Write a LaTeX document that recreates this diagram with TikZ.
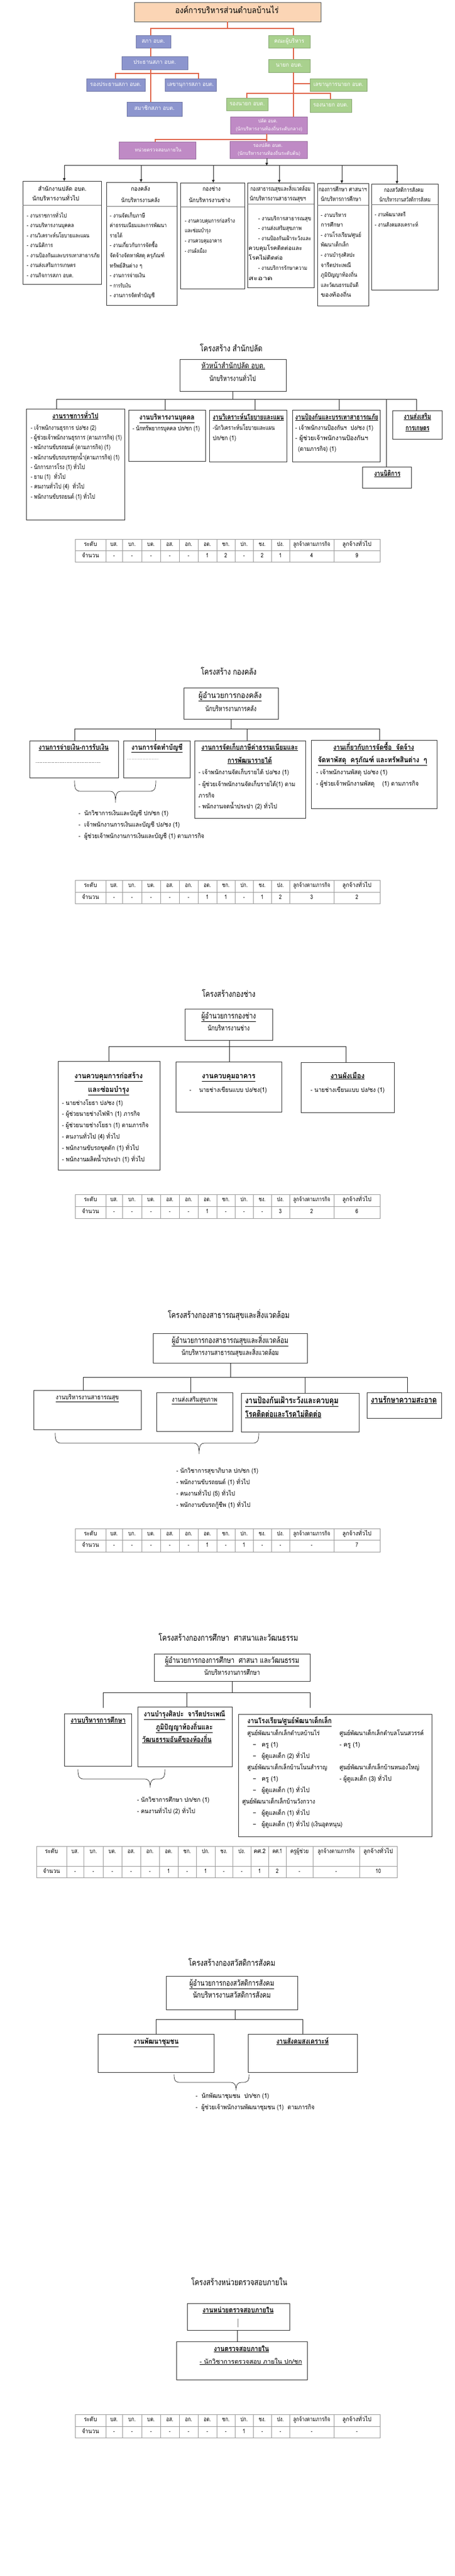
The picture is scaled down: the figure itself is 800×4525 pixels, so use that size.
\documentclass[tikz,border=0pt]{standalone}
\usepackage{fontspec}
\usetikzlibrary{fit,arrows.meta}
\newfontfamily\tha[Script=Thai]{Loma}
\newfontfamily\thb[Script=Thai,FakeStretch=0.8]{Loma}
\definecolor{peach}{HTML}{FBD5B5}
\definecolor{cblue}{HTML}{8C95CE}
\definecolor{cgreen}{HTML}{A9D18E}
\definecolor{cpurple}{HTML}{BF8AC5}
\definecolor{corange}{HTML}{E0654A}
\definecolor{tgray}{HTML}{9A9A9A}
\newsavebox\twbox
\newcommand\tw[2]{\sbox\twbox{#2}\resizebox{#1pt}{\ht\twbox}{\usebox\twbox}}
\tikzset{
  bx/.style={draw=black!80, line width=0.9pt, inner sep=0pt, outer sep=0pt},
  cbx/.style={draw=#1!80!black, fill=#1, line width=0.4pt, inner sep=0pt, outer sep=0pt},
  ol/.style={draw=corange, line width=1.8pt},
  bl/.style={draw=black!85, line width=0.8pt},
  ar/.style={bl, -{Triangle[length=5pt,width=4.5pt]}},
  sep/.style={draw=black!55, line width=0.6pt},
  tbl/.style={draw=tgray, line width=0.7pt},
  t/.style={inner sep=0pt, anchor=mid west, font=\thb\fontsize{11}{13}\selectfont},
  tc/.style={t, anchor=mid},
  ti/.style={tc, font=\thb\fontsize{15}{17}\selectfont},
  hd/.style={tc, font=\thb\fontsize{14}{16}\selectfont},
  hs/.style={tc, font=\thb\fontsize{12.5}{14}\selectfont},
  st/.style={tc, font=\thb\bfseries\fontsize{13}{15}\selectfont},
  stl/.style={st, anchor=mid west},
  sm/.style={tc, font=\thb\fontsize{11.5}{13}\selectfont},
  cell/.style={inner sep=0pt, anchor=mid, font=\thb\fontsize{10.5}{12}\selectfont},
  wt/.style={inner sep=0pt, anchor=mid, text=white, font=\tha\fontsize{10}{12}\selectfont},
  ws/.style={wt, font=\tha\fontsize{8.5}{10}\selectfont},
  it/.style={inner sep=0pt, anchor=mid west, font=\tha\fontsize{10}{12}\selectfont},
  ih/.style={inner sep=0pt, anchor=mid, font=\tha\fontsize{10.5}{12}\selectfont},
}
% \T[style]{name}{x}{y}{width}{text}
\newcommand\T[6][t]{\node[#1] (#2) at (#3,#4) {\tw{#5}{#6}};}
\newcommand\bxat[5]{\node[bx,fit={(#2,#3) (#4,#5)}] (#1) {};}
\newcommand\cbxat[6]{\node[cbx=#2,fit={(#3,#4) (#5,#6)}] (#1) {};}
\newcommand\brc[6]{%
  \draw[bl, line width=0.7pt] (#1,#2) .. controls (#1,{#6-2}) and ({#1+3},#6) .. ({#1+12},#6)
   -- ({#3-9},#6) .. controls ({#3-3},#6) and (#3,{#6+4}) .. (#3,#4)
   .. controls (#3,{#6+4}) and ({#3+3},#6) .. ({#3+9},#6)
   -- ({#5-12},#6) .. controls ({#5-3},#6) and (#5,{#6-2}) .. (#5,#2);}
\newcommand\stdcx[1]{\ifcase#1 159\or 200.5\or 232\or 265.5\or 298.5\or 331.5\or 364.5\or 397\or 429\or 461\or 493\or 548\or 627.5\fi}
\newcommand\edcx[1]{\ifcase#1 90.5\or 132\or 164\or 197.5\or 230.5\or 263.5\or 296.5\or 329\or 361.5\or 393.5\or 425\or 456.5\or 487.5\or 526.5\or 591\or 665\fi}
\newcommand\stdtable[5]{%
  \draw[tbl] (132,#2) rectangle (668,#4);
  \draw[tbl] (132,#3) -- (668,#3);
  \foreach \xx in {186,215,249,282,315,348,381,413,445,477,509,587} \draw[tbl] (\xx,#2) -- (\xx,#4);
  \pgfmathsetmacro\tya{(#2+#3)/2}
  \pgfmathsetmacro\tyb{(#3+#4)/2}
  \foreach \h [count=\i from 0] in {{\tw{23}{ระดับ}},บส.,บก.,บต.,อส.,อก.,อต.,ชก.,ปก.,ชง.,ปง.,{\tw{65}{ลูกจ้างตามภารกิจ}},{\tw{51}{ลูกจ้างทั่วไป}}} {
    \edef\xc{\stdcx{\i}}
    \node[cell] (#1h\i) at (\xc,\tya) {\h};
  }
  \foreach \v [count=\i from 0] in {{\tw{30}{จำนวน}},#5} {
    \edef\xc{\stdcx{\i}}
    \node[cell] (#1v\i) at (\xc,\tyb) {\v};
  }
}
\begin{document}
\begin{tikzpicture}[x=1pt,y=-1pt]
\path[use as bounding box, fill=white] (0,0) rectangle (800,4525);

% ================= TOP CHART =================
\node[bx, fill=peach, draw=black!65, fit={(236,4) (564,38)}] (org) {};
\node[tc, font=\tha\fontsize{15}{17}\selectfont] (orgt) at (399,21) {\tw{182}{องค์การบริหารส่วนตำบลบ้านไร่}};

\cbxat{sapha}{cblue}{239}{62}{300}{84}
\cbxat{khana}{cgreen}{472}{62}{545}{84}
\cbxat{prathan}{cblue}{214}{99}{330}{122}
\cbxat{nayok}{cgreen}{472}{104}{545}{127}
\cbxat{rongpr}{cblue}{152}{138}{255}{160}
\cbxat{lekhas}{cblue}{290}{138}{380}{160}
\cbxat{lekhan}{cgreen}{545}{138}{645}{160}
\cbxat{rongnl}{cgreen}{398}{172}{471}{194}
\cbxat{rongnr}{cgreen}{545}{174}{618}{197}
\cbxat{samachik}{cblue}{223}{179}{320}{204}
\cbxat{palad}{cpurple}{405}{205}{540}{235}
\cbxat{nuay}{cpurple}{209}{249}{344}{279}
\cbxat{rongpalad}{cpurple}{404}{248}{540}{278}

\node[wt] (saphat) at (sapha.center) {\tw{41}{สภา อบต.}};
\node[wt] (khanat) at (khana.center) {\tw{53}{คณะผู้บริหาร}};
\node[wt] (prathant) at (prathan.center) {\tw{75}{ประธานสภา อบต.}};
\node[wt] (nayokt) at (nayok.center) {\tw{47}{นายก อบต.}};
\node[wt] (rongprt) at (rongpr.center) {\tw{90}{รองประธานสภา อบต.}};
\node[wt] (lekhast) at (lekhas.center) {\tw{82}{เลขานุการสภา อบต.}};
\node[wt] (lekhant) at (lekhan.center) {\tw{88}{เลขานุการนายก อบต.}};
\node[wt] (rongnlt) at (rongnl.center) {\tw{62}{รองนายก อบต.}};
\node[wt] (rongnrt) at (rongnr.center) {\tw{62}{รองนายก อบต.}};
\node[wt] (samachikt) at (samachik.center) {\tw{71}{สมาชิกสภา อบต.}};
\node[ws] (paladt1) at (471,213) {\tw{34}{ปลัด อบต.}};
\node[ws] (paladt2) at (473,227) {\tw{117}{(นักบริหารงานท้องถิ่นระดับกลาง)}};
\node[ws] (nuayt) at (278,264) {\tw{82}{หน่วยตรวจสอบภายใน}};
\node[ws] (rongpaladt1) at (471,256) {\tw{52}{รองปลัด อบต.}};
\node[ws] (rongpaladt2) at (473,270) {\tw{110}{(นักบริหารงานท้องถิ่นระดับต้น)}};

\draw[ol] (org.south) -- (org.south |- 0,50);
\draw[ol] (sapha.north -| 265,0) |- (516,50) -- (khana.north -| 516,0);
\draw[ol] (sapha.south -| 265,0) -- (prathan.north -| 265,0);
\draw[ol] (prathan.south -| 265,0) -- (samachik.north -| 265,0);
\draw[ol] (rongpr.north -| 203,0) |- (349,129) -- (lekhas.north -| 349,0);
\draw[ol] (khana.south -| 516,0) -- (nayok.north -| 516,0);
\draw[ol] (nayok.south -| 516,0) -- (palad.north -| 516,0);
\draw[ol] (516,147) -- (lekhan.west |- 0,147);
\draw[ol] (rongnl.north -| 434,0) |- (581,164) -- (rongnr.north -| 581,0);
\draw[ol] (palad.south -| 469,0) -- (469,245);
\draw[ol] (nuay.north -| 273,0) |- (469,245) -- (rongpalad.north -| 469,0);

\bxat{tb1}{40}{318}{178}{499}
\bxat{tb2}{187}{320}{311}{536}
\bxat{tb3}{317}{321}{430}{507}
\bxat{tb4}{435}{321}{552}{505}
\bxat{tb5}{558}{322}{648}{537}
\bxat{tb6}{653}{323}{770}{509}

\draw[ar] (rongpalad.south -| 469,0) -- (469,291);
\draw[bl] (113,290) -- (698,290);
\foreach \xx/\nn in {113/tb1,248/tb2,375/tb3,491/tb4,601/tb5,698/tb6}
  \draw[ar] (\xx,290) -- (\nn.north -| \xx,0);

\draw[sep] (tb1.west |- 0,360) -- (tb1.east |- 0,360);
\draw[sep] (tb2.west |- 0,362) -- (tb2.east |- 0,362);
\draw[sep] (tb3.west |- 0,363) -- (tb3.east |- 0,363);
\draw[sep] (tb4.west |- 0,358) -- (tb4.east |- 0,358);
\draw[sep] (tb5.west |- 0,360) -- (tb5.east |- 0,360);
\draw[sep] (tb6.west |- 0,359) -- (tb6.east |- 0,359);

\T[ih]{tb1h1}{109.5}{333}{85}{สำนักงานปลัด อบต.}
\T[ih]{tb1h2}{98}{350}{82}{นักบริหารงานทั่วไป}
\T[it]{tb1i1}{47}{380}{70}{- งานราชการทั่วไป}
\T[it]{tb1i2}{47}{397.5}{83}{- งานบริหารงานบุคคล}
\T[it]{tb1i3}{47}{415}{110}{- งานวิเคราะห์นโยบายและแผน}
\T[it]{tb1i4}{47}{432.5}{46}{- งานนิติการ}
\T[it]{tb1i5}{47}{450}{128}{- งานป้องกันและบรรเทาสาธารภัย}
\T[it]{tb1i6}{47}{467.5}{86}{- งานส่งเสริมการเกษตร}
\T[it]{tb1i7}{47}{485}{82}{- งานกิจการสภา อบต.}

\T[ih]{tb2h1}{247}{333}{34}{กองคลัง}
\T[ih]{tb2h2}{247}{353}{68}{นักบริหารงานคลัง}
\T[it]{tb2i1}{193}{380}{62}{- งานจัดเก็บภาษี}
\T[it]{tb2i2}{193}{397.6}{100}{ค่าธรรมเนียมและการพัฒนา}
\T[it]{tb2i3}{193}{415.2}{22}{รายได้}
\T[it]{tb2i4}{193}{432.8}{84}{- งานเกี่ยวกับการจัดซื้อ}
\T[it]{tb2i5}{193}{450.4}{96}{จัดจ้างจัดหาพัสดุ ครุภัณฑ์}
\T[it]{tb2i6}{193}{468}{57}{ทรัพย์สินต่าง ๆ}
\T[it]{tb2i7}{193}{485.6}{62}{- งานการจ่ายเงิน}
\T[it]{tb2i8}{193}{503.2}{37}{– การรับเงิน}
\T[it]{tb2i9}{193}{520.8}{79}{- งานการจัดทำบัญชี}

\T[ih]{tb3h1}{372}{333}{32}{กองช่าง}
\T[ih]{tb3h2}{368.5}{353}{73}{นักบริหารงานช่าง}
\T[it]{tb3i1}{325}{389}{88}{- งานควบคุมการก่อสร้าง}
\T[it]{tb3i2}{325}{406.7}{45}{และซ่อมบำรุง}
\T[it]{tb3i3}{325}{424.4}{65}{- งานควบคุมอาคาร}
\T[it]{tb3i4}{325}{442}{38}{- งานผังเมือง}

\T[ih]{tb4h1}{493}{333}{106}{กองสาธารณสุขและสิ่งแวดล้อม}
\T[ih]{tb4h2}{488.5}{350}{99}{นักบริหารงานสาธารณสุขฯ}
\T[it]{tb4i1}{454}{385}{93}{- งานบริการสาธารณสุข}
\T[it]{tb4i2}{454}{402.7}{76}{- งานส่งเสริมสุขภาพ}
\T[it]{tb4i3}{454}{420}{93}{- งานป้องกันเฝ้าระวังและ}
\T[it]{tb4i4}{437}{437}{94}{ควบคุมโรคติดต่อและ}
\T[it]{tb4i5}{437}{454}{60}{โรคไม่ติดต่อ}
\T[it]{tb4i6}{454}{472}{86}{- งานบริการรักษาความ}
\T[it]{tb4i7}{437}{490}{42}{สะอาด}

\T[ih]{tb5h1}{602.5}{334}{85}{กองการศึกษา ศาสนาฯ}
\T[ih]{tb5h2}{599.5}{351}{71}{นักบริหารการศึกษา}
\T[it]{tb5i1}{564}{379}{45}{- งานบริหาร}
\T[it]{tb5i2}{564}{396.6}{39}{การศึกษา}
\T[it]{tb5i3}{564}{414.2}{71}{- งานโรงเรียน/ศูนย์}
\T[it]{tb5i4}{564}{431.8}{49}{พัฒนาเด็กเล็ก}
\T[it]{tb5i5}{564}{449.4}{60}{- งานบำรุงศิลปะ}
\T[it]{tb5i6}{564}{467}{53}{จารีตประเพณี}
\T[it]{tb5i7}{564}{484.6}{64}{ภูมิปัญญาท้องถิ่น}
\T[it]{tb5i8}{564}{502.2}{66}{และวัฒนธรรมอันดี}
\T[it]{tb5i9}{564}{519.8}{53}{ของท้องถิ่น}

\T[ih]{tb6h1}{710}{335}{70}{กองสวัสดิการสังคม}
\T[ih]{tb6h2}{712}{352}{90}{นักบริหารงานสวัสดิการสังคม}
\T[it]{tb6i1}{659}{378}{54}{- งานพัฒนาสตรี}
\T[it]{tb6i2}{659}{396}{76}{- งานสังคมสงเคราะห์}

% ================= SECTION 1 : สำนักปลัด =================
\T[ti]{s1t}{406.5}{615}{110}{โครงสร้าง สำนักปลัด}
\bxat{s1h}{316}{631}{503}{687}
\T[hd]{s1h1}{410}{645}{112}{\underline{หัวหน้าสำนักปลัด อบต.}}
\T[hs]{s1h2}{409}{667}{82}{นักบริหารงานทั่วไป}
\bxat{s1b1}{46}{718}{219}{913}
\bxat{s1b2}{226}{720}{361}{810}
\bxat{s1b3}{368}{720}{504}{811}
\bxat{s1b4}{514}{720}{668}{811}
\bxat{s1b5}{690}{721}{777}{771}
\bxat{s1b6}{637}{820}{723}{857}
\draw[bl] (s1h.south) -- (s1h.south |- 0,701);
\draw[bl] (99,701) -- (732,701);
\foreach \xx/\nn in {99/s1b1,290/s1b2,448/s1b3,596/s1b4,679/s1b6,732/s1b5}
  \draw[bl] (\xx,701) -- (\nn.north -| \xx,0);
\T[st]{s1b1t}{132.5}{733}{81}{\underline{งานราชการทั่วไป}}
\T{s1b1i1}{54}{753}{115}{- เจ้าพนักงานธุรการ ปง/ชง (2)}
\T{s1b1i2}{54}{770.3}{160}{- ผู้ช่วยเจ้าพนักงานธุรการ (ตามภารกิจ) (1)}
\T{s1b1i3}{54}{787.6}{140}{- พนักงานขับรถยนต์ (ตามภารกิจ) (1)}
\T{s1b1i4}{54}{804.9}{156}{- พนักงานขับรถบรรทุกน้ำ(ตามภารกิจ) (1)}
\T{s1b1i5}{54}{822.2}{95}{- นักการภารโรง (1) ทั่วไป}
\T{s1b1i6}{54}{839.5}{61}{- ยาม (1) ~ทั่วไป}
\T{s1b1i7}{54}{856.8}{94}{- คนงานทั่วไป (4) ~ทั่วไป}
\T{s1b1i8}{54}{874.1}{113}{- พนักงานขับรถยนต์ (1) ทั่วไป}
\T[st]{s1b2t}{293.5}{735}{97}{\underline{งานบริหารงานบุคคล}}
\T{s1b2i1}{233}{754}{118}{- นักทรัพยากรบุคคล ปก/ชก (1)}
\T[st]{s1b3t}{436.5}{735}{125}{\underline{งานวิเคราะห์นโยบายและแผน}}
\T{s1b3i1}{374}{753}{109}{-นักวิเคราะห์นโยบายและแผน}
\T{s1b3i2}{374}{771}{41}{ปก/ชก (1)}
\T[st]{s1b4t}{592}{735}{146}{\underline{งานป้องกันและบรรเทาสาธารณภัย}}
\T{s1b4i1}{519}{753}{137}{- เจ้าพนักงานป้องกันฯ ~ปง/ชง (1)}
\T{s1b4i2}{519}{771}{128}{- ผู้ช่วยเจ้าพนักงานป้องกันฯ}
\T{s1b4i3}{524}{790}{67}{(ตามภารกิจ) (1)}
\T[st]{s1b5t1}{734}{734}{48}{\underline{งานส่งเสริม}}
\T[st]{s1b5t2}{734}{754}{42}{\underline{การเกษตร}}
\T[st]{s1b6t}{681}{834}{46}{\underline{งานนิติการ}}
\stdtable{s1tb}{947}{967}{987}{-,-,-,-,-,1,2,-,2,1,4,9}

% ================= SECTION 2 : กองคลัง =================
\T[ti]{s2t}{402}{1183}{98}{โครงสร้าง กองคลัง}
\bxat{s2h}{323}{1208}{489}{1263}
\T[hd]{s2h1}{404.5}{1224}{111}{\underline{ผู้อำนวยการกองคลัง}}
\T[hs]{s2h2}{406}{1247}{90}{นักบริหารงานการคลัง}
\bxat{s2b1}{52}{1301}{208}{1366}
\bxat{s2b2}{217}{1301}{334}{1366}
\bxat{s2b3}{342}{1301}{537}{1437}
\bxat{s2b4}{547}{1300}{768}{1420}
\draw[bl] (s2h.south) -- (s2h.south |- 0,1280);
\draw[bl] (131,1280) -- (667,1280);
\foreach \xx/\nn in {131/s2b1,273/s2b2,434/s2b3,667/s2b4}
  \draw[bl] (\xx,1280) -- (\nn.north -| \xx,0);
\T[st]{s2b1t}{129.5}{1315}{123}{\underline{งานการจ่ายเงิน-การรับเงิน}}
\draw[black!70, dotted, line width=0.6pt] (63,1339) -- (176,1339);
\T[st]{s2b2t}{276}{1315}{90}{\underline{งานการจัดทำบัญชี}}
\draw[black!35, dotted, line width=0.5pt] (224,1333) -- (279,1333);
\brc{131}{1371}{203}{1410}{274}{1390}
\T{s2c1}{138}{1430}{158}{- ~นักวิชาการเงินและบัญชี ปก/ชก (1)}
\T{s2c2}{138}{1450}{178}{- ~เจ้าพนักงานการเงินและบัญชี ปง/ชง (1)}
\T{s2c3}{138}{1470}{221}{- ~ผู้ช่วยเจ้าพนักงานการเงินและบัญชี (1) ตามภารกิจ}
\T[st]{s2b3t1}{439}{1315}{170}{\underline{งานการจัดเก็บภาษีค่าธรรมเนียมและ}}
\T[st]{s2b3t2}{439}{1338}{78}{\underline{การพัฒนารายได้}}
\T{s2b3i1}{349}{1358}{159}{- เจ้าพนักงานจัดเก็บรายได้ ปง/ชง (1)}
\T{s2b3i2}{349}{1379}{170}{- ผู้ช่วยเจ้าพนักงานจัดเก็บรายได้(1) ตาม}
\T{s2b3i3}{349}{1399}{28}{ภารกิจ}
\T{s2b3i4}{349}{1418}{138}{- พนักงานจดน้ำประปา (2) ทั่วไป}
\T[st]{s2b4t1}{657}{1315}{142}{\underline{งานเกี่ยวกับการจัดซื้อ ~จัดจ้าง}}
\T[st]{s2b4t2}{655}{1337}{192}{\underline{จัดหาพัสดุ ~ครุภัณฑ์ และทรัพสินต่าง ~ๆ}}
\T{s2b4i1}{556}{1358}{125}{- เจ้าพนักงานพัสดุ ปง/ชง (1)}
\T{s2b4i2}{556}{1378}{180}{- ผู้ช่วยเจ้าพนักงานพัสดุ ~~~(1) ตามภารกิจ}
\stdtable{s2tb}{1546}{1567}{1587}{-,-,-,-,-,1,1,-,1,2,3,2}

% ================= SECTION 3 : กองช่าง =================
\T[ti]{s3t}{402}{1749}{94}{โครงสร้างกองช่าง}
\bxat{s3h}{325}{1772}{479}{1827}
\T[hd]{s3h1}{402}{1787}{96}{\underline{ผู้อำนวยการกองช่าง}}
\T[hs]{s3h2}{402}{1808}{74}{นักบริหารงานช่าง}
\bxat{s3b1}{102}{1864}{281}{2055}
\bxat{s3b2}{309}{1865}{495}{1953}
\bxat{s3b3}{529}{1866}{693}{1954}
\draw[bl] (s3h.south -| 403,0) -- (403,1838);
\draw[bl] (191,1838) -- (608,1838);
\foreach \xx/\nn in {191/s3b1,403/s3b2,608/s3b3}
  \draw[bl] (\xx,1838) -- (\nn.north -| \xx,0);
\T[st]{s3b1t1}{191}{1892}{120}{\underline{งานควบคุมการก่อสร้าง}}
\T[st]{s3b1t2}{191}{1916}{72}{\underline{และซ่อมบำรุง}}
\T{s3b1i1}{109}{1939}{107}{- นายช่างโยธา ปง/ชง (1)}
\T{s3b1i2}{109}{1958.8}{137}{- ผู้ช่วยนายช่างไฟฟ้า (1) ภารกิจ}
\T{s3b1i3}{109}{1978.6}{152}{- ผู้ช่วยนายช่างโยธา (1) ตามภารกิจ}
\T{s3b1i4}{109}{1998.4}{101}{- คนงานทั่วไป (4) ทั่วไป}
\T{s3b1i5}{109}{2018.2}{135}{- พนักงานขับรถขุดตัก (1) ทั่วไป}
\T{s3b1i6}{109}{2038}{145}{- พนักงานผลิตน้ำประปา (1) ทั่วไป}
\T[st]{s3b2t}{402}{1892}{94}{\underline{งานควบคุมอาคาร}}
\T{s3b2i1}{333}{1916}{136}{- ~~~นายช่างเขียนแบบ ปง/ชง(1)}
\T[st]{s3b3t}{611}{1892}{60}{\underline{งานผังเมือง}}
\T{s3b3i1}{546}{1916}{130}{- นายช่างเขียนแบบ ปง/ชง (1)}
\stdtable{s3tb}{2098}{2119}{2140}{-,-,-,-,-,1,-,-,-,3,2,6}

% ================= SECTION 4 : สาธารณสุข =================
\T[ti]{s4t}{402}{2313}{214}{โครงสร้างกองสาธารณสุขและสิ่งแวดล้อม}
\bxat{s4h}{269}{2342}{540}{2394}
\T[hd]{s4h1}{404.5}{2357}{205}{\underline{ผู้อำนวยการกองสาธารณสุขและสิ่งแวดล้อม}}
\T[hs]{s4h2}{404.5}{2378}{171}{นักบริหารงานสาธารณสุขและสิ่งแวดล้อม}
\bxat{s4b1}{59}{2442}{248}{2511}
\bxat{s4b2}{275}{2446}{409}{2514}
\bxat{s4b3}{424}{2447}{631}{2515}
\bxat{s4b4}{645}{2446}{776}{2491}
\draw[bl] (s4h.south -| 405,0) -- (405,2419);
\draw[bl] (146,2419) -- (716,2419);
\foreach \xx/\nn in {146/s4b1,335/s4b2,536/s4b3,716/s4b4}
  \draw[bl] (\xx,2419) -- (\nn.north -| \xx,0);
\T[sm]{s4b1t}{153.5}{2456}{111}{\underline{งานบริหารงานสาธารณสุข}}
\T[sm]{s4b2t}{342}{2460}{80}{\underline{งานส่งเสริมสุขภาพ}}
\T[stl, font=\thb\bfseries\fontsize{15}{17}\selectfont]{s4b3t1}{431}{2463}{164}{\underline{งานป้องกันเฝ้าระวังและควบคุม}}
\T[stl, font=\thb\bfseries\fontsize{15}{17}\selectfont]{s4b3t2}{431}{2487}{134}{\underline{โรคติดต่อและโรคไม่ติดต่อ}}
\T[st, font=\thb\bfseries\fontsize{15}{17}\selectfont]{s4b4t}{710}{2462}{116}{\underline{งานรักษาความสะอาด}}
\brc{97}{2517}{350}{2554}{455}{2535}
\T{s4c1}{310}{2585}{144}{- นักวิชาการสุขาภิบาล ปก/ชก (1)}
\T{s4c2}{310}{2605}{129}{- พนักงานขับรถยนต์ (1) ทั่วไป}
\T{s4c3}{310}{2625}{103}{- คนงานทั่วไป (5) ทั่วไป}
\T{s4c4}{310}{2645}{130}{- พนักงานขับรถกู้ชีพ (1) ทั่วไป}
\stdtable{s4tb}{2685}{2705}{2726}{-,-,-,-,-,1,-,1,-,-,-,7}

% ================= SECTION 5 : การศึกษา =================
\T[ti]{s5t}{401.5}{2880}{245}{โครงสร้างกองการศึกษา ~ศาสนาและวัฒนธรรม}
\bxat{s5h}{271}{2905}{545}{2953}
\T[hd]{s5h1}{408}{2919}{236}{\underline{ผู้อำนวยการกองการศึกษา ~ศาสนา และวัฒนธรรม}}
\T[hs]{s5h2}{408}{2940}{98}{นักบริหารงานการศึกษา}
\bxat{s5b1}{113}{3010}{231}{3102}
\bxat{s5b2}{242}{2998}{408}{3103}
\bxat{s5b3}{419}{3011}{759}{3226}
\coordinate (s5d1) at (181,3000);
\coordinate (s5d3) at (545,3000);
\draw[bl] (s5h.south -| 408,0) -- (408,2973);
\draw[bl] (181,2973) -- (545,2973);
\draw[bl] (181,2973) -- (s5d1);
\draw[bl] (328,2973) -- (s5b2.north -| 328,0);
\draw[bl] (545,2973) -- (s5d3);
\T[st]{s5b1t}{172.5}{3024}{97}{\underline{งานบริหารการศึกษา}}
\T[st]{s5b2t1}{324.5}{3013}{143}{\underline{งานบำรุงศิลปะ ~จารีตประเพณี}}
\T[st]{s5b2t2}{324}{3036}{100}{\underline{ภูมิปัญญาท้องถิ่นและ}}
\T[st]{s5b2t3}{311}{3058}{122}{\underline{วัฒนธรรมอันดีของท้องถิ่น}}
\brc{137}{3108}{264}{3140}{290}{3125}
\T{s5c1}{241}{3163}{127}{- นักวิชาการศึกษา ปก/ชก (1)}
\T{s5c2}{241}{3183}{102}{- คนงานทั่วไป (2) ทั่วไป}
\T[stl]{s5b3t}{435}{3025}{148}{\underline{งานโรงเรียน/ศูนย์พัฒนาเด็กเล็ก}}
\T{s5k1}{435}{3046}{127}{ศูนย์พัฒนาเด็กเล็กตำบลบ้านไร่}
\T{s5k2}{597}{3046}{148}{ศูนย์พัฒนาเด็กเล็กตำบลโนนสวรรค์}
\node[t] (s5k1a) at (445,3066) {–};
\T{s5k1b}{460}{3066}{29}{ครู (1)}
\T{s5k2a}{597}{3066}{36}{- ครู (1)}
\node[t] (s5k1c) at (445,3086) {–};
\T{s5k1d}{460}{3086}{84}{ผู้ดูแลเด็ก (2) ทั่วไป}
\T{s5k3}{435}{3106}{140}{ศูนย์พัฒนาเด็กเล็กบ้านโนนสำราญ}
\T{s5k4}{597}{3106}{140}{ศูนย์พัฒนาเด็กเล็กบ้านหนองใหญ่}
\node[t] (s5k3a) at (445,3126) {–};
\T{s5k3b}{460}{3126}{29}{ครู (1)}
\T{s5k4a}{597}{3126}{91}{- ผู้ดูแลเด็ก (3) ทั่วไป}
\node[t] (s5k3c) at (445,3146) {–};
\T{s5k3d}{460}{3146}{84}{ผู้ดูแลเด็ก (1) ทั่วไป}
\T{s5k5}{426}{3166}{128}{ศูนย์พัฒนาเด็กเล็กบ้านวังกวาง}
\node[t] (s5k5a) at (445,3186) {–};
\T{s5k5b}{460}{3186}{84}{ผู้ดูแลเด็ก (1) ทั่วไป}
\node[t] (s5k5c) at (445,3206) {–};
\T{s5k5d}{460}{3206}{142}{ผู้ดูแลเด็ก (1) ทั่วไป (เงินอุดหนุน)}
% education table
\draw[tbl] (64,3243) rectangle (698,3298);
\draw[tbl] (64,3278) -- (698,3278);
\foreach \xx in {117,147,181,214,247,280,313,345,378,409,441,472,503,550,632} \draw[tbl] (\xx,3243) -- (\xx,3298);
\foreach \h [count=\i from 0] in {{\tw{23}{ระดับ}},บส.,บก.,บต.,อส.,อก.,อต.,ชก.,ปก.,ชง.,ปง.,{\tw{21}{คศ.2}},{\tw{17}{คศ.1}},{\tw{32}{ครูผู้ช่วย}},{\tw{65}{ลูกจ้างตามภารกิจ}},{\tw{52}{ลูกจ้างทั่วไป}}} {
  \edef\xc{\edcx{\i}}
  \node[cell] (s5tbh\i) at (\xc,3253) {\h};
}
\foreach \v [count=\i from 0] in {{\tw{30}{จำนวน}},-,-,-,-,-,1,-,1,-,-,1,2,-,-,10} {
  \edef\xc{\edcx{\i}}
  \node[cell] (s5tbv\i) at (\xc,3288) {\v};
}

% ================= SECTION 6 : สวัสดิการสังคม =================
\T[ti]{s6t}{407.5}{3451}{153}{โครงสร้างกองสวัสดิการสังคม}
\bxat{s6h}{292}{3471}{523}{3530}
\T[hd]{s6h1}{407.5}{3486}{149}{\underline{ผู้อำนวยการกองสวัสดิการสังคม}}
\T[hd]{s6h2}{407.5}{3507}{137}{นักบริหารงานสวัสดิการสังคม}
\bxat{s6b1}{172}{3573}{376}{3640}
\bxat{s6b2}{436}{3573}{628}{3640}
\draw[bl] (s6h.south -| 413,0) -- (413,3547);
\draw[bl] (s6b1.north -| 274,0) |- (532,3547) -- (s6b2.north -| 532,0);
\T[st]{s6b1t}{274.5}{3588}{79}{\underline{งานพัฒนาชุมชน}}
\T[st]{s6b2t}{532}{3588}{92}{\underline{งานสังคมสงเคราะห์}}
\brc{306}{3644}{415}{3672}{438}{3658}
\T{s6c1}{344}{3683}{129}{- ~นักพัฒนาชุมชน ~ปก/ชก (1)}
\T{s6c2}{344}{3703}{209}{- ~ผู้ช่วยเจ้าพนักงานพัฒนาชุมชน (1) ~ตามภารกิจ}

% ================= SECTION 7 : ตรวจสอบภายใน =================
\T[ti]{s7t}{420.5}{4012}{169}{โครงสร้างหน่วยตรวจสอบภายใน}
\bxat{s7b1}{329}{4046}{509}{4093}
\bxat{s7b2}{310}{4113}{540}{4180}
\T[st]{s7b1t}{418.5}{4060}{125}{\underline{งานหน่วยตรวจสอบภายใน}}
\draw[black!50, line width=0.5pt] (418,4073) -- (418,4088);
\draw[bl] (s7b1.south -| 417,0) -- (s7b2.north -| 417,0);
\T[st]{s7b2t}{424.5}{4128}{97}{\underline{งานตรวจสอบภายใน}}
\T{s7b2i}{351}{4150}{180}{\underline{- นักวิชาการตรวจสอบ ภายใน ปก/ชก}}
\stdtable{s7tb}{4241}{4262}{4282}{-,-,-,-,-,-,-,1,-,-,-,-}
\end{tikzpicture}
\end{document}
